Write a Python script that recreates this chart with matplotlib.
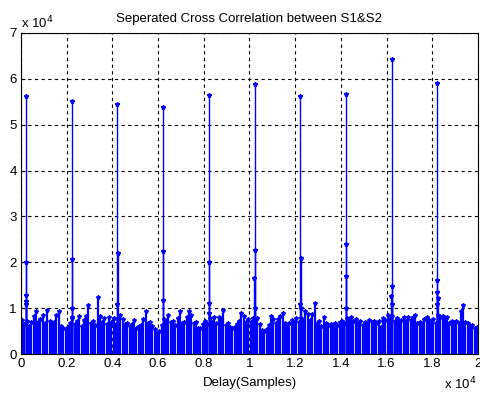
import matplotlib
matplotlib.use("Agg")
import matplotlib.pyplot as plt
import numpy as np

plt.rcParams['font.family'] = ['Liberation Sans', 'DejaVu Sans']

# ---- data (samples, raw correlation values) ----
noise_step = 100
noise_val = [
    7.4, 6.6, 7.2, 6.2, 7.0, 8.3, 9.4, 7.0, 7.6, 8.6,
    6.8, 9.7, 7.3, 6.6, 7.0, 8.6, 9.4, 6.2, 5.8, 5.4,
    6.0, 6.8, 7.8, 6.6, 7.3, 8.3, 6.2, 7.5, 8.4, 10.8,
    6.8, 7.2, 6.4, 12.4, 8.3, 7.0, 7.9, 6.6, 8.0, 7.0,
    7.8, 6.6, 7.4, 8.6, 7.6, 6.5, 6.8, 6.2, 6.6, 7.4,
    5.8, 6.1, 6.4, 7.6, 9.4, 6.8, 7.0, 6.2, 5.4, 4.6,
    5.1, 6.3, 7.6, 7.2, 8.6, 7.0, 7.2, 6.4, 7.8, 9.4,
    6.8, 7.1, 8.0, 9.4, 8.6, 6.8, 7.0, 5.6, 5.7, 6.6,
    7.2, 6.5, 7.8, 7.0, 8.2, 6.8, 8.2, 7.4, 9.7, 6.4,
    6.8, 6.0, 5.6, 6.0, 6.6, 7.3, 9.0, 8.4, 7.0, 7.6,
    6.9, 7.9, 7.2, 7.8, 6.6, 5.3, 5.0, 5.4, 6.3, 8.3,
    7.6, 6.8, 7.6, 8.4, 9.0, 6.8, 6.4, 6.7, 7.4, 6.8,
    7.9, 7.0, 7.8, 7.2, 9.4, 8.8, 7.4, 8.8, 11.2, 6.8,
    7.2, 6.2, 8.2, 6.8, 6.3, 6.6, 6.2, 6.8, 6.4, 6.9,
    7.2, 6.8, 7.8, 7.4, 8.0, 7.2, 7.6, 6.8, 7.2, 6.4,
    7.0, 6.6, 7.4, 7.0, 7.3, 6.8, 7.2, 6.0, 7.9, 7.4,
    8.6, 7.6, 8.4, 7.2, 7.8, 7.2, 7.4, 8.1, 7.2, 8.2,
    7.4, 8.2, 8.6, 6.8, 7.0, 6.6, 7.6, 8.0, 7.4, 7.0,
    7.6, 6.8, 8.6, 8.0, 8.4, 7.6, 8.2, 6.8, 7.2, 6.6,
    7.2, 6.8, 9.4, 10.8, 7.0, 6.8, 6.2, 6.3, 5.6, 6.0,
]  # in thousands

peak_pos = [220, 2220, 4220, 6220, 8220, 10220, 12230, 14220, 16220, 18220]
peak_val = [56200, 55100, 54600, 53900, 56400, 58900, 56200, 56800, 64300, 59000]

side_pos = [225, 215, 230, 210,
            2225, 2215, 2230,
            4225, 4215,
            6225, 6215,
            8225, 8215, 8230,
            10225, 10215, 10230,
            12235, 12225, 12240,
            14225, 14215, 14230,
            16225, 16215, 16230,
            18225, 18215, 18230, 18210]
side_val = [20000, 12800, 11500, 11000,
            20800, 10000, 8000,
            22000, 11000,
            22500, 11800,
            20000, 11200, 9000,
            22700, 16500, 10000,
            20900, 11000, 10000,
            23900, 17000, 10000,
            14900, 12700, 11000,
            16100, 13500, 12200, 11000]

xticks = [0, 0.2, 0.4, 0.6, 0.8, 1, 1.2, 1.4, 1.6, 1.8, 2]
yticks = [0, 1, 2, 3, 4, 5, 6, 7]

# ---- figure ----
fig = plt.figure(figsize=(4.81, 3.97), dpi=100)
ax = fig.add_axes([0.0437, 0.108, 0.950, 0.809])

blue = (0, 0, 1)
nx = np.arange(len(noise_val)) * noise_step + noise_step / 2
ny = np.array(noise_val) * 1000

def draw_stem(x, y, lw, ms):
    m, s, b = ax.stem(x, y, basefmt=' ')
    plt.setp(s, color=blue, linewidth=lw)
    plt.setp(m, color=blue, marker='*', markersize=ms, markerfacecolor=blue,
             markeredgecolor=blue)

draw_stem(nx, ny, 1.6, 3)
draw_stem(side_pos, side_val, 1.0, 3.2)
draw_stem(peak_pos, peak_val, 1.0, 3.2)

ax.set_xlim(0, 20000)
ax.set_ylim(0, 70000)
ax.set_xticks([t * 1e4 for t in xticks])
ax.set_xticklabels([('%g' % t) for t in xticks])
ax.set_yticks([t * 1e4 for t in yticks])
ax.set_yticklabels([('%g' % t) for t in yticks])
ax.tick_params(direction='in', labelsize=9.5, length=3, pad=3)
ax.grid(True, color='black', linestyle=(0, (3, 3)), linewidth=0.8)
ax.set_axisbelow(True)
for sp in ax.spines.values():
    sp.set_linewidth(0.8)

ax.set_title('Seperated Cross Correlation between S1&S2', fontsize=9.5, pad=8)
ax.set_xlabel('Delay(Samples)', fontsize=9.5, labelpad=5)

fig.text(0.043, 0.922, r'x 10$^{4}$', fontsize=9.5, ha='left', va='bottom')
fig.text(0.99, 0.012, r'x 10$^{4}$', fontsize=9.5, ha='right', va='bottom')

fig.savefig('out.png', dpi=100)
